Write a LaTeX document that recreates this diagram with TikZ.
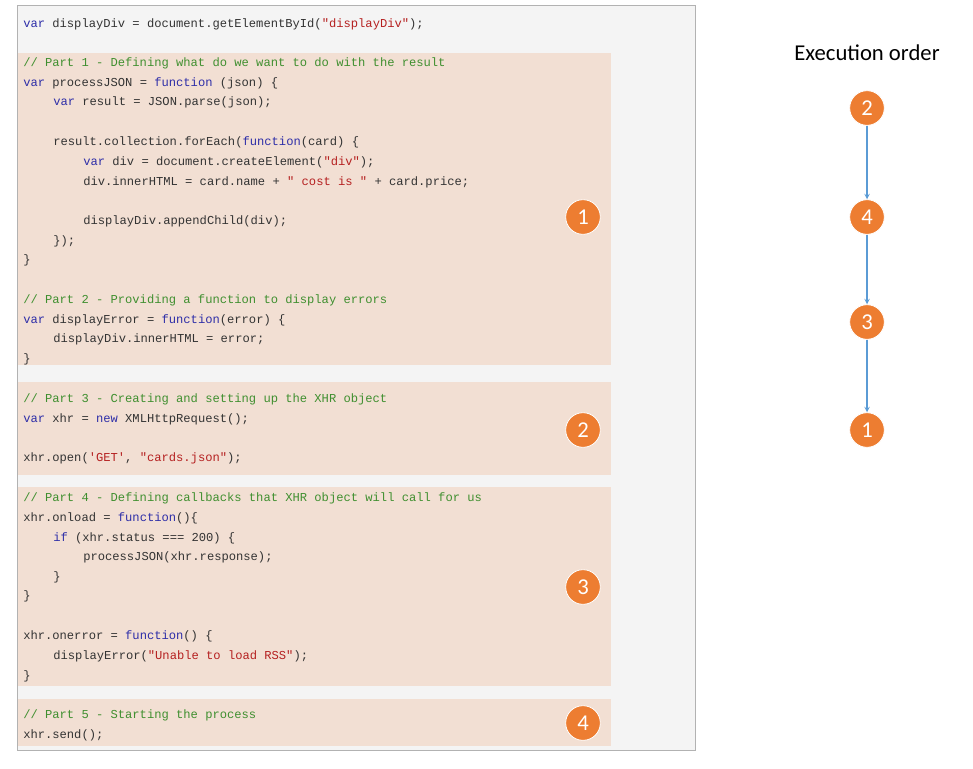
\documentclass[tikz,border=0pt]{standalone}
\usepackage{fontspec}
\setmainfont{Carlito}
\setmonofont{Liberation Mono}
\definecolor{peach}{HTML}{F2DFD3}
\definecolor{codebg}{HTML}{F4F4F4}
\definecolor{kwc}{HTML}{2E2EA8}
\definecolor{cmc}{HTML}{3F8F2F}
\definecolor{stc}{HTML}{B52020}
\definecolor{txc}{HTML}{333333}
\definecolor{orng}{HTML}{ED7D31}
\definecolor{arr}{HTML}{5B9BD5}
\newcommand{\kw}[1]{\textcolor{kwc}{#1}}
\newcommand{\cm}[1]{\textcolor{cmc}{#1}}
\newcommand{\st}[1]{\textcolor{stc}{#1}}
\tikzset{
  code/.style={anchor=west,inner sep=0pt,font=\ttfamily\fontsize{9.1pt}{10pt}\selectfont,text=txc},
  blk/.style={fill=peach,draw=none},
  num/.style={circle,fill=orng,draw=white,line width=0.6pt,minimum size=26pt,inner sep=0pt,text=white,font=\fontsize{17pt}{17pt}\selectfont},
  flow/.style={draw=arr,line width=0.8pt,-stealth}
}
\newcommand{\cl}[4]{\node[code] (#1) at (#2,#3) {#4};}
\begin{document}
\begin{tikzpicture}[x=0.75pt,y=-0.75pt]
\useasboundingbox (0,0) rectangle (973,768);
\draw[draw=gray!60,fill=codebg] (17,5) rectangle (695,750);
\fill[blk] (18,53) rectangle (611,365);
\fill[blk] (18,382) rectangle (611,475);
\fill[blk] (18,487) rectangle (611,686);
\fill[blk] (18,699) rectangle (611,746);
\def\a{23}\def\b{53}\def\c{83}
\cl{l0}{\a}{24}{\kw{var} displayDiv = document.getElementById(\st{"displayDiv"});}
\cl{l1}{\a}{63}{\cm{// Part 1 - Defining what do we want to do with the result}}
\cl{l2}{\a}{83}{\kw{var} processJSON = \kw{function} (json) \{}
\cl{l3}{\b}{102}{\kw{var} result = JSON.parse(json);}
\cl{l4}{\b}{142}{result.collection.forEach(\kw{function}(card) \{}
\cl{l5}{\c}{162}{\kw{var} div = document.createElement(\st{"div"});}
\cl{l6}{\c}{182}{div.innerHTML = card.name + \st{" cost is "} + card.price;}
\cl{l7}{\c}{221}{displayDiv.appendChild(div);}
\cl{l8}{\b}{241}{\});}
\cl{l9}{\a}{260}{\}}
\cl{l10}{\a}{300}{\cm{// Part 2 - Providing a function to display errors}}
\cl{l11}{\a}{320}{\kw{var} displayError = \kw{function}(error) \{}
\cl{l12}{\b}{339}{displayDiv.innerHTML = error;}
\cl{l13}{\a}{359}{\}}
\cl{l14}{\a}{399}{\cm{// Part 3 - Creating and setting up the XHR object}}
\cl{l15}{\a}{419}{\kw{var} xhr = \kw{new} XMLHttpRequest();}
\cl{l16}{\a}{458}{xhr.open(\st{'GET'}, \st{"cards.json"});}
\cl{l17}{\a}{498}{\cm{// Part 4 - Defining callbacks that XHR object will call for us}}
\cl{l18}{\a}{518}{xhr.onload = \kw{function}()\{}
\cl{l19}{\b}{538}{\kw{if} (xhr.status === 200) \{}
\cl{l20}{\c}{557}{processJSON(xhr.response);}
\cl{l21}{\b}{577}{\}}
\cl{l22}{\a}{596}{\}}
\cl{l23}{\a}{636}{xhr.onerror = \kw{function}() \{}
\cl{l24}{\b}{656}{displayError(\st{"Unable to load RSS"});}
\cl{l25}{\a}{676}{\}}
\cl{l26}{\a}{715}{\cm{// Part 5 - Starting the process}}
\cl{l27}{\a}{735}{xhr.send();}
\node[num] (c1) at (583,217) {1};
\node[num] (c2) at (583,430) {2};
\node[num] (c3) at (583,587) {3};
\node[num] (c4) at (583,723) {4};
\node[font=\fontsize{17pt}{17pt}\selectfont,text=black] (title) at (867,53) {Execution order};
\node[num] (e2) at (867,108) {2};
\node[num] (e4) at (867,217) {4};
\node[num] (e3) at (867,322) {3};
\node[num] (e1) at (867,430) {1};
\draw[flow] (e2) -- (e4);
\draw[flow] (e4) -- (e3);
\draw[flow] (e3) -- (e1);
\end{tikzpicture}
\end{document}
